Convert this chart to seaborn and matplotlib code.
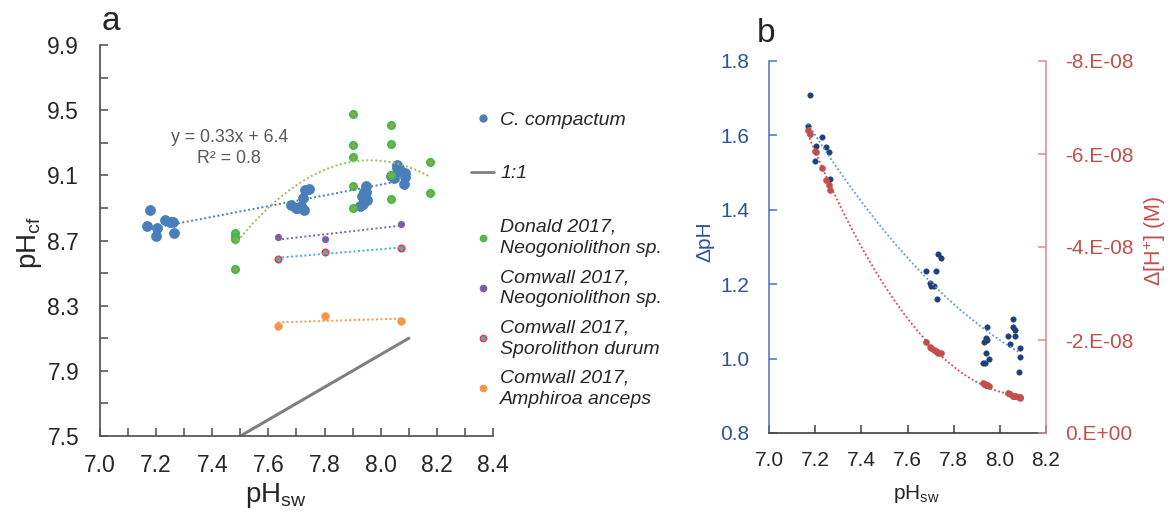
import numpy as np
import matplotlib
matplotlib.use("Agg")
import matplotlib.pyplot as plt
import seaborn as sns
from matplotlib.lines import Line2D
from matplotlib.ticker import MultipleLocator, FormatStrFormatter, FuncFormatter

# C. compactum samples (shared by both panels)
ph_sw = [7.168, 7.179, 7.199, 7.204, 7.230, 7.248, 7.259, 7.264,
         7.682, 7.698, 7.702, 7.716, 7.722, 7.726, 7.732, 7.744,
         7.926, 7.937, 7.932, 7.940, 7.946, 7.940, 7.946, 7.952,
         8.036, 8.046, 8.059, 8.059, 8.065, 8.067, 8.086, 8.088, 8.082]
ph_cf = [8.792, 8.888, 8.730, 8.775, 8.825, 8.816, 8.814, 8.746,
         8.918, 8.902, 8.898, 8.912, 8.958, 8.886, 9.012, 9.015,
         8.913, 8.924, 8.976, 8.995, 8.997, 8.954, 9.032, 8.950,
         9.098, 9.085, 9.165, 9.143, 9.142, 9.127, 9.114, 9.092, 9.046]
d_ph = [1.624, 1.709, 1.531, 1.571, 1.595, 1.568, 1.555, 1.482,
        1.236, 1.204, 1.196, 1.196, 1.236, 1.160, 1.280, 1.271,
        0.987, 0.987, 1.044, 1.055, 1.051, 1.014, 1.086, 0.998,
        1.062, 1.039, 1.106, 1.084, 1.077, 1.060, 1.028, 1.004, 0.964]
# delta [H+] in units of 1e-8 M
d_h = [-6.52, -6.42, -6.06, -6.04, -5.69, -5.44, -5.33, -5.22,
       -1.95, -1.86, -1.82, -1.78, -1.76, -1.75, -1.73, -1.71,
       -1.07, -1.05, -1.06, -1.04, -1.03, -1.04, -1.03, -1.01,
       -0.86, -0.84, -0.80, -0.80, -0.79, -0.79, -0.77, -0.76, -0.77]

# literature data
donald_x = [7.48, 7.48, 7.48, 7.48, 7.90, 7.90, 7.90, 7.90, 7.90,
            8.035, 8.035, 8.035, 8.035, 8.176, 8.176]
donald_y = [8.744, 8.724, 8.709, 8.527, 9.474, 9.284, 9.210, 9.034, 8.897,
            9.407, 9.290, 9.100, 8.955, 9.180, 8.990]
cornwall_x = [7.633, 7.800, 8.071]
neo_y = [8.724, 8.707, 8.803]
spor_y = [8.586, 8.631, 8.652]
amph_y = [8.177, 8.239, 8.208]
one_to_one = [7.5, 8.1]

a_yticks = [7.5, 7.9, 8.3, 8.7, 9.1, 9.5, 9.9]
a_yticks_minor = [7.7, 8.1, 8.5, 8.9, 9.3, 9.7]
b_right_ticks = [0, -2e-8, -4e-8, -6e-8, -8e-8]

sns.set_style("ticks")
plt.rcParams["font.family"] = ["Liberation Sans", "DejaVu Sans"]
plt.rcParams["mathtext.fontset"] = "custom"
plt.rcParams["mathtext.rm"] = "Liberation Sans"
plt.rcParams["mathtext.it"] = "Liberation Sans:italic"

W, H = 1173, 513
fig = plt.figure(figsize=(W / 100, H / 100), dpi=100)


def box(l, t, r, b):
    return [l / W, 1 - b / H, (r - l) / W, (b - t) / H]


def trend(axis, x, y, deg, color, lw=1.4):
    c = np.polyfit(x, y, deg)
    xs = np.linspace(min(x), max(x), 200)
    axis.plot(xs, np.polyval(c, xs), ls=(0, (1, 1.3)), color=color, lw=lw, zorder=4)


# ---------------- panel a ----------------
ax = fig.add_axes(box(100, 45, 493, 436))
ax.plot(one_to_one, one_to_one, color="#7f7f7f", lw=2.2, zorder=2)
sns.scatterplot(x=ph_sw, y=ph_cf, ax=ax, color="#4a7ebb", s=52, edgecolor="#4a7ebb",
                linewidth=0.5, zorder=3, legend=False)
sns.scatterplot(x=donald_x, y=donald_y, ax=ax, color="#8aa64a", s=28, edgecolor="#33c04a",
                linewidth=1.2, zorder=3, legend=False)
sns.scatterplot(x=cornwall_x, y=neo_y, ax=ax, color="#7b5ea7", s=22, edgecolor="#7b5ea7",
                linewidth=0.5, zorder=3, legend=False)
sns.scatterplot(x=cornwall_x, y=spor_y, ax=ax, color="#4bacc6", s=22, edgecolor="#ff3030",
                linewidth=1.1, zorder=3, legend=False)
sns.scatterplot(x=cornwall_x, y=amph_y, ax=ax, color="#f79646", s=30, edgecolor="#f79646",
                linewidth=0.5, zorder=3, legend=False)
trend(ax, ph_sw, ph_cf, 1, "#4a7ebb")
trend(ax, donald_x, donald_y, 2, "#9bbb59")
trend(ax, cornwall_x, neo_y, 1, "#8064a2")
trend(ax, cornwall_x, spor_y, 1, "#4bacc6")
trend(ax, cornwall_x, amph_y, 1, "#f79646")

ax.set_xlim(7.0, 8.4)
ax.set_ylim(7.5, 9.9)
ax.xaxis.set_major_locator(MultipleLocator(0.2))
ax.xaxis.set_minor_locator(MultipleLocator(0.1))
ax.set_yticks(a_yticks)
ax.set_yticks(a_yticks_minor, minor=True)
ax.xaxis.set_major_formatter(FormatStrFormatter("%.1f"))
ax.yaxis.set_major_formatter(FormatStrFormatter("%.1f"))
ax.tick_params(axis="both", which="both", direction="in", length=6, width=1.2,
               color="#595959", labelsize=16.5)
ax.tick_params(axis="x", pad=13)
ax.tick_params(axis="y", pad=15)
for s in ["top", "right"]:
    ax.spines[s].set_visible(False)
for s in ["left", "bottom"]:
    ax.spines[s].set_color("#595959")
    ax.spines[s].set_linewidth(1.3)

ax.set_xlabel(r"pH$_\mathregular{sw}$", fontsize=20, ha="left", va="baseline")
ax.xaxis.set_label_coords((245 - 100) / 393, (436 - 502) / 391)
ax.set_ylabel(r"pH$_\mathregular{cf}$", fontsize=20, ha="center", va="center")
ax.yaxis.set_label_coords((29 - 100) / 393, (436 - 243) / 391)

ax.text(7.46, 9.27, "y = 0.33x + 6.4\nR² = 0.8", ha="center", va="center",
        fontsize=12.8, color="#595959", linespacing=1.3)
fig.text(111 / W, 1 - 22 / H, "a", fontsize=24, ha="center", va="center")

leg_prop = dict(style="italic", size=14)
h1 = [Line2D([], [], ls="", marker="o", ms=5, mfc="#4a7ebb", mec="#4a7ebb"),
      Line2D([], [], color="#7f7f7f", lw=2)]
leg1 = ax.legend(h1, ["C. compactum", "1:1"], loc="upper left",
                 bbox_to_anchor=(471 / W, 1 - 111 / H), bbox_transform=fig.transFigure,
                 frameon=False, borderpad=0, borderaxespad=0, handlelength=1.2,
                 handletextpad=0.3, labelspacing=1.86, prop=leg_prop)
h2 = [Line2D([], [], ls="", marker="o", ms=4.5, mfc="#8aa64a", mec="#33c04a", mew=1),
      Line2D([], [], ls="", marker="o", ms=4.5, mfc="#7b5ea7", mec="#7b5ea7"),
      Line2D([], [], ls="", marker="o", ms=4.5, mfc="#4bacc6", mec="#ff3030", mew=1),
      Line2D([], [], ls="", marker="o", ms=4.5, mfc="#f79646", mec="#f79646")]
leg2 = fig.legend(h2, ["Donald 2017,\nNeogoniolithon sp.", "Comwall 2017,\nNeogoniolithon sp.",
                       "Comwall 2017,\nSporolithon durum", "Comwall 2017,\nAmphiroa anceps"],
                  loc="upper left", bbox_to_anchor=(471 / W, 1 - 219 / H), frameon=False,
                  borderpad=0, borderaxespad=0, handlelength=1.2, handletextpad=0.3,
                  labelspacing=0.62, prop=leg_prop)
for t in leg2.get_texts():
    t.set_linespacing(1.32)

# ---------------- panel b ----------------
blue_txt = "#2e5496"
red_txt = "#c0504d"
bx = fig.add_axes(box(769, 61, 1046, 433))
bx2 = bx.twinx()
sns.scatterplot(x=ph_sw, y=d_ph, ax=bx, color="#1f3f7a", s=16, edgecolor="#1f3f7a",
                linewidth=0.3, zorder=3, legend=False)
trend(bx, ph_sw, d_ph, 2, "#5b9bd5", lw=1.3)
d_h_m = np.array(d_h) * 1e-8
sns.scatterplot(x=ph_sw, y=d_h_m, ax=bx2, color="#c0504d", s=20, edgecolor="#c0504d",
                linewidth=0.3, zorder=3, legend=False)
trend(bx2, ph_sw, d_h_m, 2, "#d04a4a", lw=1.3)

bx.set_xlim(7.0, 8.2)
bx.set_ylim(0.8, 1.8)
bx2.set_ylim(0, -8e-8)
bx.xaxis.set_major_locator(MultipleLocator(0.2))
bx.yaxis.set_major_locator(MultipleLocator(0.2))
bx.xaxis.set_major_formatter(FormatStrFormatter("%.1f"))
bx.yaxis.set_major_formatter(FormatStrFormatter("%.1f"))
bx2.set_yticks(b_right_ticks)
bx2.yaxis.set_major_formatter(FuncFormatter(lambda v, p: f"{v:.0E}".replace("E", ".E")))

bx.tick_params(axis="x", direction="in", length=6, width=1.1, color="#404040",
               labelsize=15, pad=13)
bx.tick_params(axis="y", direction="in", length=6, width=1.1, color="#4472c4",
               labelsize=15, labelcolor=blue_txt, pad=14)
bx2.tick_params(axis="y", direction="in", length=6, width=1.1, color="#e08a8a",
                labelsize=15, labelcolor=red_txt, pad=14)
for a in (bx, bx2):
    a.spines["top"].set_visible(False)
bx.spines["right"].set_visible(False)
bx2.spines["left"].set_visible(False)
bx2.spines["bottom"].set_visible(False)
bx.spines["left"].set_color("#4472c4")
bx.spines["left"].set_linewidth(1.1)
bx.spines["bottom"].set_color("#404040")
bx.spines["bottom"].set_linewidth(1.2)
bx2.spines["right"].set_color("#e08a8a")
bx2.spines["right"].set_linewidth(1.1)

bx.set_xlabel(r"pH$_\mathregular{sw}$", fontsize=15, ha="left", va="baseline")
bx.xaxis.set_label_coords((893 - 769) / 277, (433 - 499) / 372)
bx.set_ylabel("ΔpH", fontsize=15, color=blue_txt, ha="center", va="center")
bx.yaxis.set_label_coords((705 - 769) / 277, (433 - 242) / 372)
bx2.set_ylabel(r"Δ[H$^\mathregular{+}$] (M)", fontsize=15.5, color=red_txt,
               rotation=90, ha="center", va="center")
bx2.yaxis.set_label_coords((1155 - 769) / 277, (433 - 241) / 372)
fig.text(766 / W, 1 - 33 / H, "b", fontsize=24, ha="center", va="center")

fig.savefig("out.png", dpi=100)
